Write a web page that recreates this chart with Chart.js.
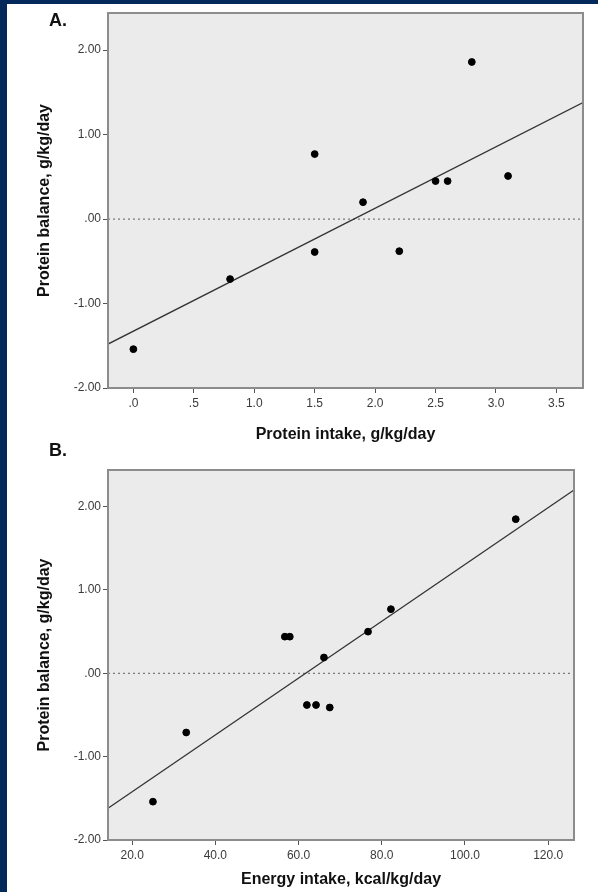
<!DOCTYPE html>
<html lang="en">
<head>
    <meta charset="UTF-8">
    <title>Protein balance</title>
    <script src="https://cdn.jsdelivr.net/npm/chart.js"></script>
    <style>
        body { margin: 0; background: #03295a; }
        #page { position: absolute; left: 7px; top: 4px; width: 591px; height: 888px; background: #fff; }
        canvas { position: absolute; left: 0; }
        .panel { position: absolute; left: 49px; font: bold 18px 'Liberation Sans', Arial, sans-serif; color: #111; }
    </style>
</head>
<body>
    <div id="page"></div>
    <canvas id="chartA" style="top:0"></canvas>
    <canvas id="chartB" style="top:446px"></canvas>
    <div class="panel" style="top:10px">A.</div>
    <div class="panel" style="top:440px">B.</div>

    <script>
        // Panel A: protein intake vs protein balance
        const proteinIntake = [0, 0.8, 1.5, 1.5, 1.9, 2.2, 2.5, 2.6, 2.8, 3.1];
        const balanceA = [-1.54, -0.71, 0.77, -0.39, 0.20, -0.38, 0.45, 0.45, 1.86, 0.51];
        const fitAx = [-0.21, 3.72];
        const fitAy = [-1.48, 1.38];
        const xTicksA = [0, 0.5, 1, 1.5, 2, 2.5, 3, 3.5];
        const xLabelsA = ['.0', '.5', '1.0', '1.5', '2.0', '2.5', '3.0', '3.5'];

        // Panel B: energy intake vs protein balance
        const energyIntake = [25.0, 33.0, 56.7, 57.9, 62.0, 64.2, 66.1, 67.5, 76.7, 82.2, 112.2];
        const balanceB = [-1.54, -0.71, 0.44, 0.44, -0.38, -0.38, 0.19, -0.41, 0.50, 0.77, 1.85];
        const fitBx = [14.2, 126.2];
        const fitBy = [-1.62, 2.20];
        const xTicksB = [20, 40, 60, 80, 100, 120];
        const xLabelsB = ['20.0', '40.0', '60.0', '80.0', '100.0', '120.0'];

        const yTicks = [-2, -1, 0, 1, 2];
        const yLabels = ['-2.00', '-1.00', '.00', '1.00', '2.00'];

        const FONT = "'Liberation Sans', Arial, sans-serif";

        // grey plot area + frame
        const framePlugin = {
            id: 'frame',
            beforeDraw(chart) {
                const { ctx, chartArea: a } = chart;
                ctx.save();
                ctx.fillStyle = '#ebebeb';
                ctx.fillRect(a.left, a.top, a.right - a.left, a.bottom - a.top);
                ctx.restore();
            },
            afterDraw(chart) {
                const { ctx, chartArea: a } = chart;
                ctx.save();
                ctx.strokeStyle = '#8c8c8c';
                ctx.lineWidth = 2;
                ctx.strokeRect(a.left, a.top, a.right - a.left, a.bottom - a.top);
                ctx.restore();
            }
        };

        function makeChart(id, xs, ys, fx, fy, xr, xt, xl, xTitle, pad, xHeight, titleBottom) {
            const pts = xs.map((x, i) => ({ x: x, y: ys[i] }));
            const fit = fx.map((x, i) => ({ x: x, y: fy[i] }));
            const zero = [{ x: xr[0], y: 0 }, { x: xr[1], y: 0 }];
            const canvas = document.getElementById(id);
            canvas.width = 598;
            canvas.height = 446;
            return new Chart(canvas, {
                type: 'scatter',
                data: {
                    datasets: [
                        { data: pts, backgroundColor: '#000', borderColor: '#000', pointRadius: 3.4, order: 0 },
                        { data: fit, showLine: true, borderColor: '#333', borderWidth: 1.3, pointRadius: 0, order: 1 },
                        { data: zero, showLine: true, borderColor: '#7a7a7a', borderWidth: 1.2, borderDash: [2, 3], pointRadius: 0, order: 2 }
                    ]
                },
                options: {
                    responsive: false,
                    animation: false,
                    layout: { padding: pad },
                    plugins: { legend: { display: false }, tooltip: { enabled: false } },
                    scales: {
                        x: {
                            min: xr[0], max: xr[1],
                            afterBuildTicks: s => { s.ticks = xt.map(v => ({ value: v })); },
                            afterFit: s => { s.height = xHeight; },
                            border: { display: false },
                            grid: { drawOnChartArea: false, drawTicks: true, tickLength: 5, color: '#555' },
                            ticks: { callback: (v, i) => xl[i], color: '#3a3a3a', padding: 3, maxRotation: 0, font: { family: FONT, size: 12 } },
                            title: { display: true, text: xTitle, color: '#111', padding: { top: 0, bottom: titleBottom }, font: { family: FONT, size: 16, weight: 'bold' } }
                        },
                        y: {
                            min: -2, max: 2.44,
                            afterBuildTicks: s => { s.ticks = yTicks.map(v => ({ value: v })); },
                            afterFit: s => { s.width = 108; },
                            border: { display: false },
                            grid: { drawOnChartArea: false, drawTicks: true, tickLength: 5, color: '#555' },
                            ticks: { callback: (v, i) => yLabels[i], color: '#3a3a3a', padding: 2, font: { family: FONT, size: 12 } },
                            title: { display: true, text: 'Protein balance, g/kg/day', color: '#111', padding: { top: 35, bottom: 0 }, font: { family: FONT, size: 16, weight: 'bold' } }
                        }
                    }
                },
                plugins: [framePlugin]
            });
        }

        makeChart('chartA', proteinIntake, balanceA, fitAx, fitAy, [-0.21, 3.72], xTicksA, xLabelsA,
            'Protein intake, g/kg/day', { top: 13, right: 15, left: 0, bottom: 0 }, 58, 1.5);
        makeChart('chartB', energyIntake, balanceB, fitBx, fitBy, [14.2, 126.2], xTicksB, xLabelsB,
            'Energy intake, kcal/kg/day', { top: 24, right: 24, left: 0, bottom: 0 }, 52, 2.5);
    </script>
</body>
</html>
